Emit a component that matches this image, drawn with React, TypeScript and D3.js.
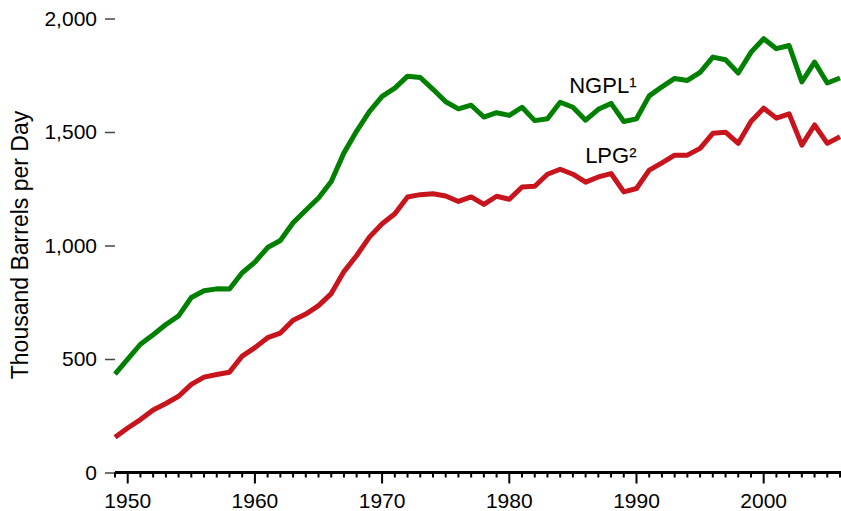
import React, { useRef, useEffect } from "react";
import * as d3 from "d3";

// NGPL and LPG production, thousand barrels per day, 1949-2006
const startYear = 1949;
const endYear = 2006;

const ngpl = [
  433, 499, 565, 607, 652, 690, 771, 801, 809, 808,
  880, 927, 991, 1022, 1100, 1155, 1209, 1282, 1408, 1504,
  1590, 1657, 1693, 1746, 1740, 1688, 1633, 1602, 1618, 1566,
  1585, 1573, 1609, 1550, 1558, 1631, 1609, 1552, 1600, 1626,
  1546, 1558, 1659, 1699, 1736, 1727, 1763, 1830, 1818, 1760,
  1851, 1911, 1867, 1881, 1721, 1808, 1716, 1738,
];

const lpg = [
  155, 196, 233, 275, 304, 336, 388, 420, 432, 442,
  513, 550, 594, 614, 671, 698, 735, 788, 885, 956,
  1037, 1096, 1140, 1214, 1224, 1228, 1218, 1194, 1214, 1181,
  1217, 1204, 1258, 1261, 1314, 1336, 1314, 1279, 1302, 1317,
  1236, 1251, 1332, 1364, 1398, 1398, 1428, 1494, 1499, 1450,
  1546, 1605, 1561, 1580, 1442, 1531, 1450, 1479,
];

const yTicks = [0, 500, 1000, 1500, 2000];
const xMajorTicks = [1950, 1960, 1970, 1980, 1990, 2000];

const series = [
  { name: "NGPL¹", values: ngpl, color: "#008000", labelAt: 1672 },
  { name: "LPG²", values: lpg, color: "#c8141c", labelAt: 1362 },
];

const App = () => {
  const svgRef = useRef(null);

  useEffect(() => {
    const svg = d3.select(svgRef.current);
    const width = 841;
    const height = 511;
    const font = "'Liberation Sans', Arial, sans-serif";

    svg.selectAll("*").remove();

    const x = d3.scaleLinear().domain([startYear, endYear]).range([115, 840]);
    const y = d3.scaleLinear().domain([0, 2000]).range([472.5, 18.5]);

    // y ticks (no axis line)
    const yAxis = svg
      .append("g")
      .attr("transform", "translate(115,0)")
      .call(d3.axisLeft(y).tickValues(yTicks).tickSize(10).tickPadding(8).tickFormat(d3.format(",")))
      .call((g) => g.select(".domain").remove());
    yAxis.selectAll(".tick line").attr("stroke", "#444").attr("stroke-width", 1.5);
    yAxis
      .selectAll(".tick text")
      .attr("font-family", font)
      .attr("font-size", 21)
      .attr("fill", "#000");

    // x axis: minor ticks every year, major every decade
    const years = d3.range(startYear, endYear + 1);
    const xg = svg.append("g").attr("transform", `translate(0,${y(0)})`);
    xg.selectAll(".minor")
      .data(years)
      .join("line")
      .attr("x1", (d) => x(d))
      .attr("x2", (d) => x(d))
      .attr("y1", 0)
      .attr("y2", (d) => (xMajorTicks.includes(d) ? 11 : 5))
      .attr("stroke", "#000")
      .attr("stroke-width", 2);
    xg.selectAll(".lbl")
      .data(xMajorTicks)
      .join("text")
      .attr("x", (d) => x(d))
      .attr("y", 35)
      .attr("text-anchor", "middle")
      .attr("font-family", font)
      .attr("font-size", 21)
      .text((d) => d);
    xg.append("line")
      .attr("x1", x(startYear))
      .attr("x2", width)
      .attr("y1", 0)
      .attr("y2", 0)
      .attr("stroke", "#000")
      .attr("stroke-width", 3);

    // y axis title
    svg
      .append("text")
      .attr("transform", `translate(28,${245}) rotate(-90)`)
      .attr("text-anchor", "middle")
      .attr("font-family", font)
      .attr("font-size", 23)
      .text("Thousand Barrels per Day");

    const line = d3
      .line()
      .x((d, i) => x(startYear + i))
      .y((d) => y(d));

    series.forEach((s) => {
      svg
        .append("path")
        .attr("d", line(s.values))
        .attr("fill", "none")
        .attr("stroke", s.color)
        .attr("stroke-width", 5)
        .attr("stroke-linejoin", "round");

      svg
        .append("text")
        .attr("x", x(1990))
        .attr("y", y(s.labelAt))
        .attr("text-anchor", "end")
        .attr("font-family", font)
        .attr("font-size", 22)
        .text(s.name);
    });
  }, []);

  return (
    <svg
      ref={svgRef}
      width="841"
      height="511"
      style={{ position: "absolute", left: 0, top: 0, background: "#fff" }}
    ></svg>
  );
};

export default App;
